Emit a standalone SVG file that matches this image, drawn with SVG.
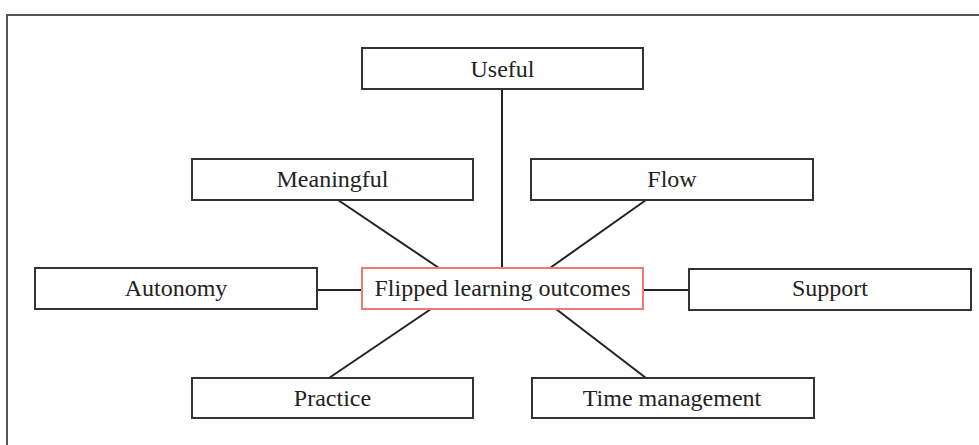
<svg xmlns="http://www.w3.org/2000/svg" width="979" height="445" viewBox="0 0 979 445">
<style>
.box{fill:#fff;stroke:#333;stroke-width:2}
.center{fill:#fff;stroke:#f07878;stroke-width:2}
.lbl{font-family:"Liberation Serif","Times New Roman",serif;font-size:24px;fill:#222;text-anchor:middle}
.conn{stroke:#222;stroke-width:2;fill:none}
</style>
<rect x="0" y="0" width="979" height="445" fill="#fff"/>
<rect id="frame" x="7" y="15" width="1000" height="500" fill="none" stroke="#555" stroke-width="2"/>
<g id="connectors">
<line class="conn" x1="502" y1="89" x2="502" y2="268"/>
<line class="conn" x1="338" y1="200" x2="439" y2="268"/>
<line class="conn" x1="646" y1="200" x2="550" y2="268"/>
<line class="conn" x1="317" y1="290" x2="362" y2="290"/>
<line class="conn" x1="643" y1="290" x2="689" y2="290"/>
<line class="conn" x1="431" y1="309" x2="329" y2="378"/>
<line class="conn" x1="556" y1="309" x2="646" y2="378"/>
</g>
<g id="useful"><rect class="box" x="362" y="48" width="281" height="41"/><text class="lbl" x="502.5" y="77">Useful</text></g>
<g id="meaningful"><rect class="box" x="192" y="159" width="281" height="41"/><text class="lbl" x="332.5" y="187">Meaningful</text></g>
<g id="flow"><rect class="box" x="531" y="159" width="282" height="41"/><text class="lbl" x="672" y="187">Flow</text></g>
<g id="autonomy"><rect class="box" x="35" y="268" width="282" height="41"/><text class="lbl" x="176" y="296">Autonomy</text></g>
<g id="center"><rect class="center" x="362" y="268" width="281" height="41"/><text class="lbl" x="502.5" y="296">Flipped learning outcomes</text></g>
<g id="support"><rect class="box" x="689" y="269" width="282" height="41"/><text class="lbl" x="830" y="296">Support</text></g>
<g id="practice"><rect class="box" x="192" y="378" width="281" height="40"/><text class="lbl" x="332.5" y="406">Practice</text></g>
<g id="time-management"><rect class="box" x="532" y="378" width="282" height="40"/><text class="lbl" x="672" y="406">Time management</text></g>
</svg>
